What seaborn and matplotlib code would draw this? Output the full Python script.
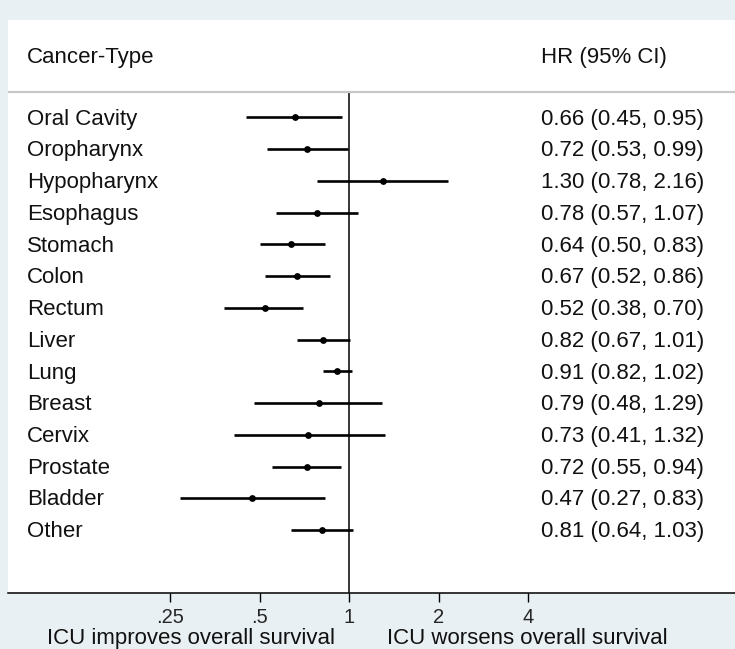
import numpy as np
import pandas as pd
import matplotlib
matplotlib.use("Agg")
import matplotlib.pyplot as plt
import matplotlib.transforms as mtransforms
import seaborn as sns

# data
cancer_types = ["Oral Cavity", "Oropharynx", "Hypopharynx", "Esophagus", "Stomach",
                "Colon", "Rectum", "Liver", "Lung", "Breast", "Cervix", "Prostate",
                "Bladder", "Other"]
hr = [0.66, 0.72, 1.30, 0.78, 0.64, 0.67, 0.52, 0.82, 0.91, 0.79, 0.73, 0.72, 0.47, 0.81]
ci_low = [0.45, 0.53, 0.78, 0.57, 0.50, 0.52, 0.38, 0.67, 0.82, 0.48, 0.41, 0.55, 0.27, 0.64]
ci_high = [0.95, 0.99, 2.16, 1.07, 0.83, 0.86, 0.70, 1.01, 1.02, 1.29, 1.32, 0.94, 0.83, 1.03]
tick_values = [0.25, 0.5, 1, 2, 4]
tick_labels = [".25", ".5", "1", "2", "4"]

df = pd.DataFrame({"type": cancer_types, "hr": hr, "lo": ci_low, "hi": ci_high})
df["row"] = np.arange(len(df))
df["label"] = [f"{h:.2f} ({l:.2f}, {u:.2f})" for h, l, u in zip(df.hr, df.lo, df.hi)]

sns.set_style("white")
plt.rcParams['font.family'] = ['Liberation Sans', 'DejaVu Sans']

bg = "#e9f0f3"
fig = plt.figure(figsize=(7.35, 6.49), dpi=100, facecolor=bg)
ax = fig.add_axes([8/735, 56/649, 727/735, 573/649])
ax.set_facecolor("white")

# confidence intervals and point estimates
ax.hlines(df["row"], df["lo"], df["hi"], color="black", lw=1.9, zorder=2)
sns.scatterplot(data=df, x="hr", y="row", color="black", s=24, marker="o",
                edgecolor="black", linewidth=0, ax=ax, zorder=3, legend=False)

ax.set_xscale("log", base=2)
ax.set_xlim(0.0713, 19.87)
ax.set_ylim(14.98, -3.07)

# reference line at HR = 1 and header separator
ax.vlines(1, -0.80, 14.98, color="black", lw=1.1, zorder=1)
ax.axhline(-0.80, color="#c8c8c8", lw=1.6, zorder=1)

ax.set_xticks(tick_values)
ax.set_xticklabels(tick_labels, fontsize=14.5)
ax.xaxis.set_minor_locator(matplotlib.ticker.NullLocator())
ax.tick_params(axis="x", direction="out", length=6.5, width=1.0, pad=4,
               bottom=True, color="black")
ax.set_yticks([])
ax.set_xlabel("")
ax.set_ylabel("")

for s in ["top", "right", "left"]:
    ax.spines[s].set_visible(False)
ax.spines["bottom"].set_color("black")
ax.spines["bottom"].set_linewidth(1.1)

trans = mtransforms.blended_transform_factory(ax.transAxes, ax.transData)
ax.text(0.026, -1.9, "Cancer-Type", transform=trans, fontsize=16,
        va="center", ha="left", color="#111111")
ax.text(0.733, -1.9, "HR (95% CI)", transform=trans, fontsize=16,
        va="center", ha="left", color="#111111")
for r, name, lab in zip(df["row"], df["type"], df["label"]):
    ax.text(0.026, r + 0.05, name, transform=trans, fontsize=16,
            va="center", ha="left", color="#111111")
    ax.text(0.733, r + 0.05, lab, transform=trans, fontsize=16,
            va="center", ha="left", color="#111111")

fig.text(335/735, 5/649, "ICU improves overall survival", fontsize=16,
         ha="right", va="baseline", color="#111111")
fig.text(387/735, 5/649, "ICU worsens overall survival", fontsize=16,
         ha="left", va="baseline", color="#111111")

fig.savefig("out.png", dpi=100, facecolor=bg)
